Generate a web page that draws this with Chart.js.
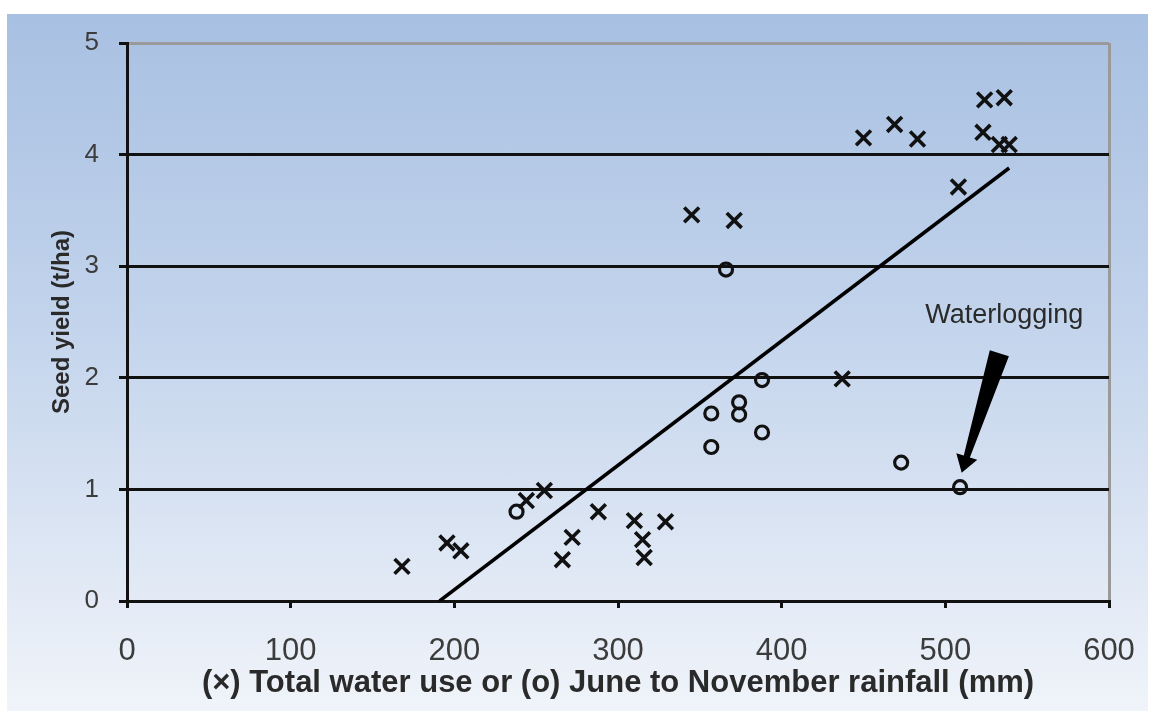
<!DOCTYPE html>
<html>
<head>
<meta charset="utf-8">
<script src="https://cdn.jsdelivr.net/npm/chart.js@4/dist/chart.umd.min.js"></script>
<style>
  html, body { margin: 0; padding: 0; background: #ffffff; }
  #wrap { position: relative; width: 1155px; height: 711px; }
  #bg { position: absolute; left: 7px; top: 14px; width: 1141px; height: 697px;
        background: linear-gradient(to bottom, #a8c0e2 0%, #c3d4ec 45%, #e4ebf6 85%, #f0f4fa 100%); }
  canvas { position: absolute; left: 0; top: 0; }
</style>
</head>
<body>
<div id="wrap">
  <div id="bg"></div>
  <canvas id="c" width="1155" height="711"></canvas>
</div>
<script>
// Total water use (x markers)
const crossX = [168, 195.5, 204, 244, 255, 266, 272, 288, 310, 315, 316, 329, 345, 371, 437, 450, 469, 483, 508, 523, 524, 536, 533, 539];
const crossY = [0.31, 0.52, 0.45, 0.90, 0.99, 0.37, 0.57, 0.80, 0.72, 0.55, 0.39, 0.71, 3.46, 3.41, 1.99, 4.15, 4.27, 4.14, 3.71, 4.20, 4.49, 4.51, 4.09, 4.09];
// June to November rainfall (o markers)
const circX = [238, 366, 357, 374, 374, 388, 388, 357, 473, 509];
const circY = [0.80, 2.97, 1.68, 1.78, 1.67, 1.98, 1.51, 1.38, 1.24, 1.02];
// Fitted line
const trendX = [191, 539];
const trendY = [0, 3.88];
// Axis ticks
const xTicks = [0, 100, 200, 300, 400, 500, 600];
const yTicks = [0, 1, 2, 3, 4, 5];
// Annotation
const noteText = 'Waterlogging';
const notePos = [536, 2.56];
const arrowFrom = [533, 2.22];
const arrowTo = [510, 1.15];

const toPts = (xs, ys) => xs.map((x, i) => ({ x: x, y: ys[i] }));

const annotPlugin = {
  id: 'annot',
  afterDatasetsDraw(chart) {
    const { ctx, scales: { x, y } } = chart;
    ctx.save();
    ctx.fillStyle = '#2a2a2a';
    ctx.font = '27px "Liberation Sans", Arial, sans-serif';
    ctx.textAlign = 'center';
    ctx.textBaseline = 'middle';
    ctx.fillText(noteText, x.getPixelForValue(notePos[0]), y.getPixelForValue(notePos[1]));
    // wedge arrow
    const x0 = x.getPixelForValue(arrowFrom[0]), y0 = y.getPixelForValue(arrowFrom[1]);
    const x1 = x.getPixelForValue(arrowTo[0]), y1 = y.getPixelForValue(arrowTo[1]);
    const dx = x1 - x0, dy = y1 - y0, L = Math.hypot(dx, dy);
    const ux = dx / L, uy = dy / L, px = -uy, py = ux;
    const headLen = 17, tailW = 10, neckW = 3.2, headW = 11;
    const bx = x1 - ux * headLen, by = y1 - uy * headLen;
    ctx.fillStyle = '#000';
    ctx.beginPath();
    ctx.moveTo(x0 + px * tailW, y0 + py * tailW);
    ctx.lineTo(bx + px * neckW, by + py * neckW);
    ctx.lineTo(bx + px * headW, by + py * headW);
    ctx.lineTo(x1, y1);
    ctx.lineTo(bx - px * headW, by - py * headW);
    ctx.lineTo(bx - px * neckW, by - py * neckW);
    ctx.lineTo(x0 - px * tailW, y0 - py * tailW);
    ctx.closePath();
    ctx.fill();
    ctx.restore();
  }
};

const FONT = '"Liberation Sans", Arial, sans-serif';

new Chart(document.getElementById('c'), {
  type: 'scatter',
  data: {
    datasets: [
      { label: 'Total water use', data: toPts(crossX, crossY), pointStyle: 'crossRot',
        pointRadius: 10.5, pointBorderWidth: 3.6, borderColor: '#111', backgroundColor: '#111' },
      { label: 'June to November rainfall', data: toPts(circX, circY), pointStyle: 'circle',
        pointRadius: 6.5, pointBorderWidth: 3.2, borderColor: '#111', backgroundColor: 'rgba(0,0,0,0)' },
      { label: 'Fit', type: 'line', data: toPts(trendX, trendY), showLine: true,
        borderColor: '#000', borderWidth: 3.5, pointRadius: 0, fill: false }
    ]
  },
  options: {
    responsive: false,
    animation: false,
    events: [],
    layout: { padding: { top: 43, right: 46, left: 0, bottom: 0 } },
    plugins: { legend: { display: false }, tooltip: { enabled: false } },
    scales: {
      x: {
        type: 'linear', min: 0, max: 600,
        afterBuildTicks: s => { s.ticks = xTicks.map(v => ({ value: v })); },
        afterFit: s => { s.height = 110; s.paddingLeft = 0; s.paddingRight = 0; },
        ticks: { color: '#3c3c3c', font: { family: FONT, size: 31 }, padding: 25, maxRotation: 0 },
        grid: { drawOnChartArea: true, drawTicks: true, tickLength: 7, lineWidth: 3,
                color: c => (c.tick && c.tick.value === 600) ? '#9a9a9a' : 'rgba(0,0,0,0)',
                tickColor: '#111', tickWidth: 3 },
        border: { display: true, color: '#111', width: 3 },
        title: { display: true, text: '(×) Total water use or (o) June to November rainfall (mm)',
                 color: '#2a2a2a', font: { family: FONT, size: 31, weight: 'bold' },
                 padding: { top: 0, bottom: 9 } }
      },
      y: {
        type: 'linear', min: 0, max: 5,
        afterBuildTicks: s => { s.ticks = yTicks.map(v => ({ value: v })); },
        afterFit: s => { s.width = 127; s.paddingTop = 0; s.paddingBottom = 0; },
        ticks: { color: '#3c3c3c', font: { family: FONT, size: 26 }, padding: 20 },
        grid: { drawOnChartArea: true, drawTicks: true, tickLength: 8, lineWidth: 3,
                color: c => (c.tick && c.tick.value === 5) ? '#9a9a9a' : (c.tick && c.tick.value === 0 ? 'rgba(0,0,0,0)' : '#111'),
                tickColor: '#111', tickWidth: 3 },
        border: { display: true, color: '#111', width: 3 },
        title: { display: true, text: 'Seed yield (t/ha)', color: '#2a2a2a',
                 font: { family: FONT, size: 24, weight: 'bold' }, padding: { top: 48, bottom: 0 } }
      }
    }
  },
  plugins: [annotPlugin]
});
</script>
</body>
</html>
